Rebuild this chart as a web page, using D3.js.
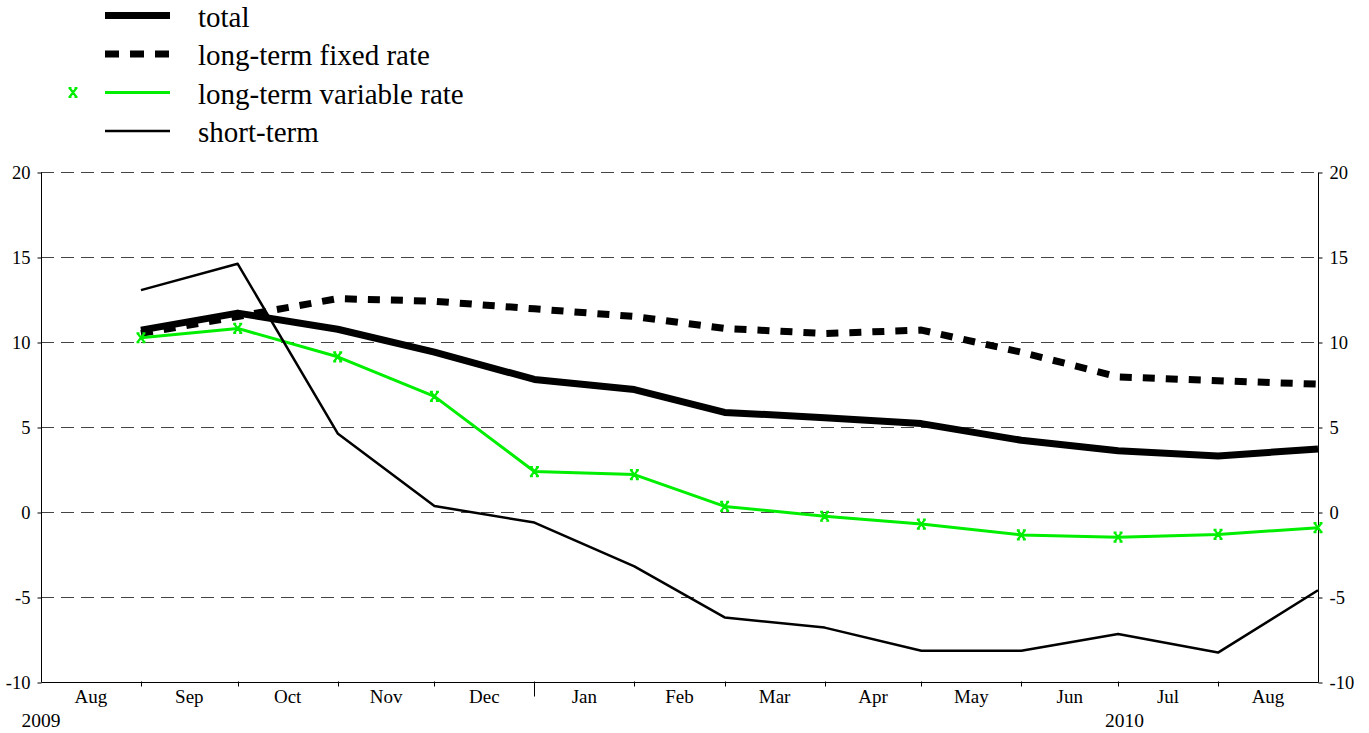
<!DOCTYPE html>
<html>
<head>
<meta charset="utf-8">
<script src="https://cdn.jsdelivr.net/npm/d3@7"></script>
<style>
  html, body { margin: 0; padding: 0; background: #fff; }
  svg { display: block; }
</style>
</head>
<body>
<svg id="chart" width="1369" height="733"></svg>
<script>
// ---- data ----
const months = ["2009-08","2009-09","2009-10","2009-11","2009-12","2010-01","2010-02","2010-03","2010-04","2010-05","2010-06","2010-07","2010-08"];
const monthLabels = ["Aug","Sep","Oct","Nov","Dec","Jan","Feb","Mar","Apr","May","Jun","Jul","Aug"];
const total        = [10.7, 11.7, 10.75, 9.4, 7.8, 7.2, 5.86, 5.55, 5.2, 4.22, 3.6, 3.3, 3.7];
const fixedRate    = [10.5, 11.5, 12.55, 12.4, 11.95, 11.5, 10.8, 10.5, 10.7, 9.4, 7.95, 7.72, 7.52];
const variableRate = [10.25, 10.8, 9.13, 6.8, 2.38, 2.2, 0.33, -0.25, -0.71, -1.35, -1.48, -1.32, -0.92];
const shortTerm    = [13.05, 14.6, 4.62, 0.35, -0.62, -3.2, -6.2, -6.8, -8.16, -8.16, -7.18, -8.27, -4.6];
const yTicks = [-10, -5, 0, 5, 10, 15, 20];
const yearLabels = ["2009", "2010"];
const yearLabelDates = ["2009-08-01", "2010-07-03"];
const seriesNames = ["total", "long-term fixed rate", "long-term variable rate", "short-term"];

(function () {
const FONT = "Liberation Serif";
// ---- layout ----
const svg = d3.select("#chart");
const pLeft = 41, pRight = 1318, pTop = 172, pBottom = 682;
const parseMonth = d3.timeParse("%Y-%m");
const parseDay = d3.timeParse("%Y-%m-%d");
const monthStarts = months.map(parseMonth);
const monthEnds = monthStarts.map(d => d3.timeMonth.offset(d, 1));

const x = d3.scaleTime()
  .domain([monthStarts[0], monthEnds[monthEnds.length - 1]])
  .range([pLeft, pRight]);
const y = d3.scaleLinear().domain([-10, 20]).range([pBottom, pTop]);

// grid lines
svg.append("g").selectAll("line")
  .data(yTicks.filter(v => v > -10))
  .join("line")
  .attr("x1", pLeft).attr("x2", pRight)
  .attr("y1", d => Math.round(y(d)) + 0.5).attr("y2", d => Math.round(y(d)) + 0.5)
  .attr("stroke", "#444").attr("stroke-width", 1)
  .attr("stroke-dasharray", "13,7");

// left & right axes
const fmt = d => String(d);
const yLeft = d3.axisLeft(y).tickValues(yTicks).tickSize(4).tickPadding(7).tickFormat(fmt);
const yRight = d3.axisRight(y).tickValues(yTicks).tickSize(4).tickPadding(7).tickFormat(fmt);
const gl = svg.append("g").attr("transform", `translate(${pLeft + 0.5},0.5)`).call(yLeft);
const gr = svg.append("g").attr("transform", `translate(${pRight + 0.5},0.5)`).call(yRight);
[gl, gr].forEach(g => {
  g.attr("font-family", FONT).attr("font-size", 18);
  g.select(".domain").attr("d", `M0,${pTop}V${pBottom}`).attr("stroke", "#000");
  g.selectAll(".tick line").attr("stroke", "#000");
  g.selectAll(".tick text").attr("fill", "#000").attr("font-family", FONT).attr("font-size", 18.5);
});

// bottom axis with month ticks
const tickDates = monthStarts.slice(1);
const gx = svg.append("g").attr("transform", `translate(0.5,${Math.round(pBottom) + 0.5})`);
gx.append("line").attr("x1", pLeft).attr("x2", pRight).attr("stroke", "#000");
gx.selectAll("line.tk").data(tickDates).join("line").attr("class", "tk")
  .attr("x1", d => Math.round(x(d))).attr("x2", d => Math.round(x(d)))
  .attr("y1", -1)
  .attr("y2", d => d.getMonth() === 0 ? 14 : 4)
  .attr("stroke", "#000");
svg.append("g").selectAll("text").data(monthStarts).join("text")
  .attr("x", (d, i) => (x(d) + x(monthEnds[i])) / 2)
  .attr("y", 703)
  .attr("text-anchor", "middle")
  .attr("font-family", FONT)
  .attr("font-size", 19)
  .text((d, i) => monthLabels[i]);
svg.append("g").selectAll("text").data(yearLabels).join("text")
  .attr("x", (d, i) => x(parseDay(yearLabelDates[i])))
  .attr("y", 727)
  .attr("text-anchor", "middle")
  .attr("font-family", FONT)
  .attr("font-size", 19.5)
  .text(d => d);

// lines
const line = d3.line().x((d, i) => x(monthEnds[i])).y(d => y(d));
const styles = [
  { data: fixedRate, stroke: "#000", width: 7, dash: "12,11" },
  { data: total, stroke: "#000", width: 7, dash: null },
  { data: variableRate, stroke: "#00ee00", width: 3, dash: null },
  { data: shortTerm, stroke: "#000", width: 2.5, dash: null }
];
styles.forEach(s => {
  svg.append("path").datum(s.data)
    .attr("d", line)
    .attr("fill", "none")
    .attr("stroke", s.stroke)
    .attr("stroke-width", s.width)
    .attr("stroke-linejoin", "round")
    .attr("stroke-dasharray", s.dash);
});

// markers on variable rate
const markerPath = "M-3.5,-4.5L3.5,4.5M3.5,-4.5L-3.5,4.5M-4.5,-4.5H-1.5M1.5,-4.5H4.5M-4.5,4.5H-1.5M1.5,4.5H4.5";
svg.append("g").selectAll("path").data(variableRate).join("path")
  .attr("transform", (d, i) => `translate(${x(monthEnds[i])},${y(d)})`)
  .attr("d", markerPath)
  .attr("fill", "none")
  .attr("stroke", "#00ee00")
  .attr("stroke-width", 2.2);

// legend
const legendY = [15.5, 54, 92.5, 131];
const legendStyles = [
  { width: 7, dash: null, stroke: "#000" },
  { width: 7, dash: "14,11", stroke: "#000" },
  { width: 3, dash: null, stroke: "#00ee00" },
  { width: 2.5, dash: null, stroke: "#000" }
];
const lg = svg.append("g");
seriesNames.forEach((name, i) => {
  lg.append("line")
    .attr("x1", 105).attr("x2", 170)
    .attr("y1", legendY[i]).attr("y2", legendY[i])
    .attr("stroke", legendStyles[i].stroke)
    .attr("stroke-width", legendStyles[i].width)
    .attr("stroke-dasharray", legendStyles[i].dash);
  lg.append("text")
    .attr("x", 198).attr("y", legendY[i] + 11)
    .attr("font-family", FONT)
    .attr("font-size", 29)
    .text(name);
});
lg.append("path")
  .attr("transform", `translate(73,${legendY[2]})`)
  .attr("d", markerPath)
  .attr("fill", "none")
  .attr("stroke", "#00ee00")
  .attr("stroke-width", 2.2);
})();
</script>
</body>
</html>
